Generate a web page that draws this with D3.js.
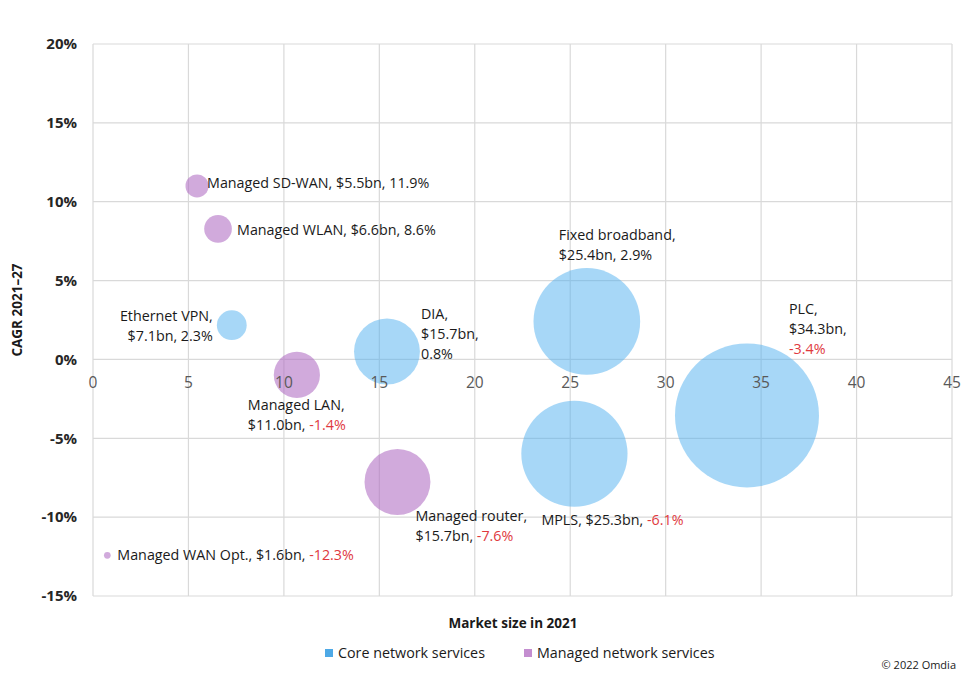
<!DOCTYPE html>
<html>
<head>
<meta charset="UTF-8" />
<script src="https://cdn.jsdelivr.net/npm/d3@7"></script>
<style>
  body { margin: 0; background: #fff; }
  svg text { font-family: "Open Sans", "Noto Sans", sans-serif; }
</style>
</head>
<body>
<svg id="chart" width="975" height="680"></svg>
<script>
// segments / names
const names = ['Managed SD-WAN', 'Managed WLAN', 'Ethernet VPN', 'DIA', 'Managed LAN',
  'Managed router', 'Managed WAN Opt.', 'Fixed broadband', 'MPLS', 'PLC'];
const groups = ['managed', 'managed', 'core', 'core', 'managed',
  'managed', 'managed', 'core', 'core', 'core'];
// where the bubbles sit on the chart (market size $bn, CAGR %)
const xPos = [5.45, 6.55, 7.27, 15.4, 10.68, 15.95, 0.75, 25.87, 25.22, 34.26];
const yPos = [11.0, 8.28, 2.17, 0.5, -0.98, -7.77, -12.42, 2.41, -5.98, -3.55];
// values written in the labels (bubble size = market size)
const marketSize = [5.5, 6.6, 7.1, 15.7, 11.0, 15.7, 1.6, 25.4, 25.3, 34.3];
const cagr = [11.9, 8.6, 2.3, 0.8, -1.4, -7.6, -12.3, 2.9, -6.1, -3.4];

const xTicks = [0, 5, 10, 15, 20, 25, 30, 35, 40, 45];
const yTicks = [-15, -10, -5, 0, 5, 10, 15, 20];
const legendItems = ['Core network services', 'Managed network services'];

// label layout: offset from bubble centre, anchor, how the text is broken into lines
const labelLayout = {
  'Managed SD-WAN': { dx: 10, dy: -3, anchor: 'start', lines: 1 },
  'Managed WLAN': { dx: 19, dy: 1, anchor: 'start', lines: 1 },
  'Ethernet VPN': { dx: -19, dy: -9, anchor: 'end', lines: 2 },
  'DIA': { dx: 34, dy: -38, anchor: 'start', lines: 3 },
  'Managed LAN': { dx: -49, dy: 30, anchor: 'start', lines: 2 },
  'Managed router': { dx: 18, dy: 34, anchor: 'start', lines: 2 },
  'Managed WAN Opt.': { dx: 10, dy: 0, anchor: 'start', lines: 1 },
  'Fixed broadband': { dx: -28, dy: -86, anchor: 'start', lines: 2 },
  'MPLS': { dx: -33, dy: 66, anchor: 'start', lines: 1 },
  'PLC': { dx: 42, dy: -106, anchor: 'start', lines: 3 }
};

const data = names.map((n, i) => ({
  name: n, group: groups[i], x: xPos[i], y: yPos[i], size: marketSize[i], cagr: cagr[i]
}));

const svg = d3.select('#chart');
const x = d3.scaleLinear().domain([0, 45]).range([93, 952]);
const y = d3.scaleLinear().domain([-15, 20]).range([596, 44]);
const r = d3.scaleLinear().domain([0, 34.3]).range([0, 72]);

const fills = { core: '#4fb0f0', managed: '#b06cc2' };
const legendFills = { core: '#4ea9e6', managed: '#c48ed0' };

// gridlines
svg.append('g').selectAll('line.v').data(xTicks).join('line')
  .attr('x1', d => x(d)).attr('x2', d => x(d))
  .attr('y1', y(20)).attr('y2', y(-15))
  .attr('stroke', '#d9d9d9').attr('stroke-width', 1.2);
svg.append('g').selectAll('line.h').data(yTicks).join('line')
  .attr('x1', x(0)).attr('x2', x(45))
  .attr('y1', d => y(d)).attr('y2', d => y(d))
  .attr('stroke', '#d9d9d9').attr('stroke-width', 1.2);

// y tick labels
svg.append('g').selectAll('text').data(yTicks).join('text')
  .attr('x', 77).attr('y', d => y(d)).attr('dy', '0.35em')
  .attr('text-anchor', 'end')
  .attr('font-size', 15).attr('font-weight', 'bold').attr('fill', '#262626')
  .text(d => d + '%');

// bubbles, biggest first
const sorted = data.slice().sort((a, b) => b.size - a.size);
svg.append('g').selectAll('circle').data(sorted).join('circle')
  .attr('cx', d => x(d.x)).attr('cy', d => y(d.y))
  .attr('r', d => Math.max(3, r(d.size)))
  .attr('fill', d => fills[d.group])
  .attr('fill-opacity', d => d.group === 'core' ? 0.5 : 0.58);

// x tick labels (axis crosses at 0)
svg.append('g').selectAll('text').data(xTicks).join('text')
  .attr('x', d => x(d)).attr('y', y(0) + 23).attr('dy', '0.35em')
  .attr('text-anchor', 'middle')
  .attr('font-size', 15.5).attr('fill', '#595959')
  .text(d => d);

// data labels
const lbl = svg.append('g').attr('font-size', 14.3).attr('fill', '#1a1a1a');
data.forEach(d => {
  const L = labelLayout[d.name];
  const sizeTxt = '$' + d.size.toFixed(1) + 'bn,';
  const pctTxt = d.cagr.toFixed(1) + '%';
  let lines;
  if (L.lines === 1) lines = [[d.name + ', ' + sizeTxt + ' ', pctTxt]];
  else if (L.lines === 2) lines = [[d.name + ',', ''], [sizeTxt + ' ', pctTxt]];
  else lines = [[d.name + ',', ''], [sizeTxt, ''], ['', pctTxt]];
  const cx = x(d.x) + L.dx, cy = y(d.y) + L.dy;
  lines.forEach((ln, k) => {
    const t = lbl.append('text')
      .attr('x', cx).attr('y', cy + k * 20).attr('dy', '0.35em')
      .attr('text-anchor', L.anchor);
    if (ln[0]) t.append('tspan').text(ln[0]);
    if (ln[1]) t.append('tspan').attr('fill', d.cagr < 0 ? '#e0393e' : '#1a1a1a').text(ln[1]);
  });
});

// axis titles
svg.append('text')
  .attr('transform', 'translate(22,310) rotate(-90)')
  .attr('text-anchor', 'middle').attr('font-size', 13.5).attr('font-weight', 'bold')
  .attr('fill', '#1a1a1a').text('CAGR 2021–27');
svg.append('text')
  .attr('x', 513).attr('y', 623).attr('dy', '0.35em')
  .attr('text-anchor', 'middle').attr('font-size', 13.5).attr('font-weight', 'bold')
  .attr('fill', '#1a1a1a').text('Market size in 2021');

// legend
const legX = [325, 524];
const leg = svg.append('g');
legendItems.forEach((txt, i) => {
  const key = i === 0 ? 'core' : 'managed';
  leg.append('rect').attr('x', legX[i]).attr('y', 649).attr('width', 8).attr('height', 8)
    .attr('fill', legendFills[key]);
  leg.append('text').attr('x', legX[i] + 13).attr('y', 653).attr('dy', '0.35em')
    .attr('font-size', 14.3).attr('fill', '#1a1a1a').text(txt);
});

svg.append('text').attr('x', 956).attr('y', 665).attr('dy', '0.35em')
  .attr('text-anchor', 'end').attr('font-size', 11).attr('fill', '#1a1a1a')
  .text('© 2022 Omdia');
</script>
</body>
</html>
